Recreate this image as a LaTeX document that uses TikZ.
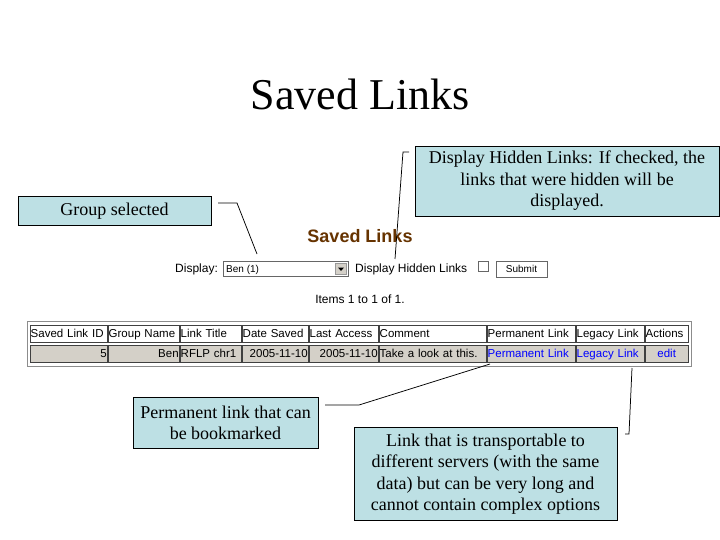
\documentclass[tikz,border=0pt]{standalone}
\usepackage{fontspec}
\setmainfont{Liberation Serif}
\newfontfamily\webfont{Liberation Sans}
\definecolor{calloutblue}{RGB}{189,224,228}
\definecolor{headingbrown}{RGB}{102,51,0}
\definecolor{cellgray}{RGB}{212,208,200}
\definecolor{linkblue}{RGB}{0,0,255}

\begin{document}
\begin{tikzpicture}[
    x = 1pt,
    y = -1pt,
    callout/.style = {
      draw,
      fill = calloutblue,
      align = center,
      inner sep = 0pt,
      font = \fontsize{18}{21.5}\selectfont
    },
    pointer/.style = {
      draw,
      line width = 0.75pt
    },
    webtext/.style = {
      inner sep = 0pt,
      font = \webfont\fontsize{12}{14}\selectfont
    },
    headcell/.style = {
      draw = black!75,
      fill = white,
      anchor = north west,
      inner xsep = 0.5pt,
      inner ysep = 0pt,
      minimum height = 17pt,
      text height = 10pt,
      text depth = 1.5pt,
      align = left,
      font = \webfont\fontsize{11.5}{14}\selectfont
    },
    datacell/.style = {
      headcell,
      fill = cellgray
    }
  ]
  \useasboundingbox (0,0) rectangle (720,540);
  \fill[white] (0,0) rectangle (720,540);

  \node[font = \fontsize{44}{44}\selectfont] (title) at (360,94) {Saved Links};

  \node[webtext, font = \webfont\bfseries\fontsize{18}{18}\selectfont, text = headingbrown] (heading) at (360,236) {Saved Links};

  \node[webtext, anchor = west] (display) at (175,269) {Display:};
  \node[draw = black!60, fill = white, minimum width = 125, minimum height = 15, anchor = west] (select) at (223,269) {};
  \node[webtext, anchor = west, font = \webfont\fontsize{10}{12}\selectfont] (group) at (226,269.5) {Ben (1)};
  \node[draw = black!40, fill = cellgray, minimum size = 11, inner sep = 0pt] (selbtn) at (341,269) {};
  \fill (338,267.5) -- (344,267.5) -- (341,271) -- cycle;
  \node[webtext, anchor = west] (hidden) at (355,269) {Display Hidden Links};
  \node[draw = black!60, fill = white, minimum size = 10, inner sep = 0pt] (check) at (483,266) {};
  \node[draw = black!60, fill = white, minimum width = 51, minimum height = 16, inner sep = 0pt, font = \webfont\fontsize{10}{12}\selectfont] (submit) at (521.5,269) {Submit};

  \node[webtext] (items) at (360,299) {Items 1 to 1 of 1.};

  \draw[black!45] (27,321) rectangle (691,366);

  \node[headcell, text width = 76] (h1) at (30,325) {Saved Link ID};
  \node[headcell, text width = 70] (h2) at (108,325) {Group Name};
  \node[headcell, text width = 60] (h3) at (180,325) {Link Title};
  \node[headcell, text width = 65] (h4) at (242,325) {Date Saved};
  \node[headcell, text width = 68] (h5) at (309,325) {Last Access};
  \node[headcell, text width = 106] (h6) at (379,325) {Comment};
  \node[headcell, text width = 87] (h7) at (487,325) {Permanent Link};
  \node[headcell, text width = 67] (h8) at (576,325) {Legacy Link};
  \node[headcell, text width = 42] (h9) at (645,325) {Actions};

  \node[datacell, text width = 76, align = right] (d1) at (30,345) {5};
  \node[datacell, text width = 70, align = right] (d2) at (108,345) {Ben};
  \node[datacell, text width = 60] (d3) at (180,345) {RFLP chr1};
  \node[datacell, text width = 65, align = right] (d4) at (242,345) {2005-11-10};
  \node[datacell, text width = 68, align = right] (d5) at (309,345) {2005-11-10};
  \node[datacell, text width = 106] (d6) at (379,345) {Take a look at this.};
  \node[datacell, text width = 87, text = linkblue] (d7) at (487,345) {Permanent Link};
  \node[datacell, text width = 67, text = linkblue] (d8) at (576,345) {Legacy Link};
  \node[datacell, text width = 42, align = center, text = linkblue] (d9) at (645,345) {edit};

  \node[callout, minimum width = 193, minimum height = 29] (grp) at (114.5,211) {Group selected};
  \node[callout, minimum width = 304, minimum height = 70] (hid) at (567,181) {Display Hidden Links: If checked, the\\links that were hidden will be\\displayed.};
  \node[callout, minimum width = 185, minimum height = 51] (perm) at (225.5,423) {Permanent link that can\\be bookmarked};
  \node[callout, minimum width = 263, minimum height = 93] (leg) at (485.5,474) {Link that is transportable to\\different servers (with the same\\data) but can be very long and\\cannot contain complex options};

  \coordinate (grp1) at (218,203);
  \coordinate (grp2) at (237,203);
  \coordinate (grpT) at (257,254);
  \coordinate (hid1) at (409,152);
  \coordinate (hid2) at (403,152);
  \coordinate (hidT) at (395,259);
  \coordinate (perm1) at (325,405);
  \coordinate (perm2) at (359,405);
  \coordinate (permT) at (490,364);
  \coordinate (leg1) at (625,434);
  \coordinate (leg2) at (629,434);
  \coordinate (legT) at (632,368);

  \draw[pointer] (grp1) -- (grp2) -- (grpT);
  \draw[pointer] (hid1) -- (hid2) -- (hidT);
  \draw[pointer] (perm1) -- (perm2) -- (permT);
  \draw[pointer] (leg1) -- (leg2) -- (legT);
\end{tikzpicture}
\end{document}
